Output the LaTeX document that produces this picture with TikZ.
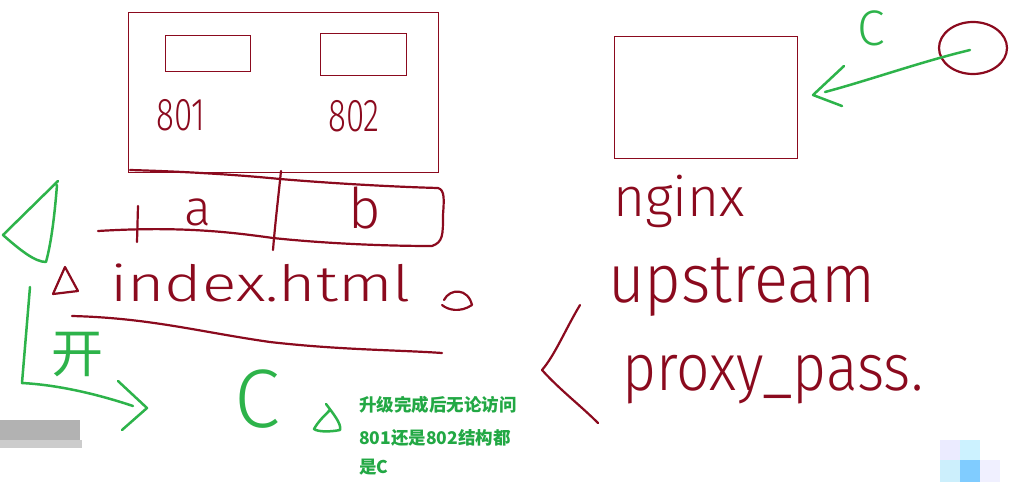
\documentclass[tikz,border=0pt]{standalone}
\usepackage{fontspec}
\usepackage{graphicx}
\newfontfamily\hand{Fira Sans Light}
\newfontfamily\cjk{Noto Sans CJK SC}
\definecolor{dred}{HTML}{8B0A1E}
\definecolor{hgreen}{HTML}{2DB34A}
\definecolor{tgreen}{HTML}{22A844}
\tikzset{
  redline/.style={draw=dred, line width=2.2pt, line cap=round, line join=round},
  thinred/.style={draw=dred, line width=1.4pt},
  grnline/.style={draw=hgreen, line width=2.5pt, line cap=round, line join=round},
  redtext/.style={text=dred, inner sep=0pt, font=\hand},
  grntext/.style={text=hgreen, inner sep=0pt, font=\hand},
  note/.style={text=tgreen, inner sep=0pt, anchor=base west, font=\cjk\bfseries\fontsize{17.5}{17.5}\selectfont},
}
\begin{document}
\begin{tikzpicture}[x=1pt,y=-1pt]
\useasboundingbox[fill=white] (0,0) rectangle (1035,482);
% mosaic blurs
\fill[gray!60] (0,420) rectangle (80,440);
\fill[gray!40] (0,440) rectangle (82,448);
\fill[blue!8] (940,440) rectangle (960,460);
\fill[blue!25!cyan!20] (960,440) rectangle (980,460);
\fill[cyan!20] (940,460) rectangle (960,482);
\fill[blue!40!cyan!50] (960,460) rectangle (980,482);
\fill[blue!6] (980,460) rectangle (1000,482);

% left server box
\node[thinred, rectangle, minimum width=310pt, minimum height=160pt, anchor=north west, inner sep=0pt] (box) at (128,12) {};
\node[thinred, rectangle, minimum width=85pt, minimum height=36pt, anchor=north west, inner sep=0pt] (s1) at (165,35) {};
\node[thinred, rectangle, minimum width=86pt, minimum height=42pt, anchor=north west, inner sep=0pt] (s2) at (320,33) {};
\node[redtext, anchor=base west, font=\hand\fontsize{46}{46}\selectfont] (t801) at (156,130) {\scalebox{0.72}[1]{801}};
\node[redtext, anchor=base west, font=\hand\fontsize{46}{46}\selectfont] (t802) at (328,131) {\scalebox{0.72}[1]{802}};

% a | b strip
\draw[redline] (130,170) .. controls (200,172) and (250,176) .. (280,179) .. controls (340,184) and (400,187) .. (438,188)
   .. controls (445,190) and (444,200) .. (443,215) .. controls (443,235) and (443,242) .. (432,246)
   .. controls (380,246) and (320,243) .. (273,238) .. controls (230,232) and (180,226) .. (98,231);
\draw[redline] (281,171) .. controls (278,200) and (275,225) .. (273,250);
\draw[redline] (138,206) -- (137,242);
\node[redtext, anchor=base west, font=\hand\fontsize{50}{50}\selectfont] (ta) at (184,225) {a};
\node[redtext, anchor=base west, font=\hand\fontsize{56}{56}\selectfont] (tb) at (348,228) {b};

% index.html
\draw[redline] (65,267) -- (53,294) -- (78,291) -- cycle;
\node[redtext, anchor=base west, font=\hand\fontsize{50}{50}\selectfont] (idx) at (110,301) {\scalebox{1.28}[1]{index.html}};
\draw[redline] (444,300) .. controls (450,288) and (468,288) .. (472,305) .. controls (460,313) and (448,310) .. (442,305);
\draw[redline] (72,316) .. controls (150,318) and (200,332) .. (270,342) .. controls (340,350) and (400,350) .. (442,353);

% green annotations left
\draw[grnline] (58,181) -- (3,235) .. controls (20,250) and (35,262) .. (46,262) .. controls (52,240) and (55,210) .. (57,185);
\draw[grnline] (30,287) -- (22,383) .. controls (60,385) and (100,395) .. (133,406);
\draw[grnline] (118,381) -- (147,408) -- (122,430);
\node[text=hgreen, inner sep=0pt, font=\cjk\fontsize{52}{52}\selectfont] (kai) at (77,355) {开};
\node[grntext, anchor=base west, font=\hand\fontsize{83}{83}\selectfont] (bigc) at (234,427) {C};
\draw[grnline] (326,404) .. controls (332,412) and (342,424) .. (340,430) .. controls (330,432) and (318,432) .. (314,429) .. controls (318,422) and (322,418) .. (330,410);
\node[note] (n1) at (359,411) {升级完成后无论访问};
\node[note] (n2) at (359,444) {801还是802结构都};
\node[note] (n3) at (359,473) {是C};

% right side
\node[thinred, rectangle, minimum width=183pt, minimum height=122pt, anchor=north west, inner sep=0pt] (ngx) at (614,36) {};
\node[redtext, anchor=base west, font=\hand\fontsize{55}{55}\selectfont] (tnginx) at (613,216) {nginx};
\node[redtext, anchor=base west, font=\hand\fontsize{68}{68}\selectfont] (tup) at (608,302) {\scalebox{0.93}[1]{upstream}};
\node[redtext, anchor=base west, font=\hand\fontsize{66}{66}\selectfont] (tpp) at (622,390) {\scalebox{0.89}[1]{proxy\_pass.}};
\draw[redline] (580,305) .. controls (565,330) and (555,355) .. (542,370) .. controls (560,390) and (580,405) .. (598,423);

\node[grntext, anchor=base west, font=\hand\fontsize{50}{50}\selectfont] (smallc) at (857,45) {C};
\draw[redline] (973,48) ellipse [x radius=34, y radius=26];
\coordinate (cstart) at (970,50);
\coordinate (cend) at (825,92);
\draw[grnline] (cstart) .. controls (920,62) and (870,80) .. (cend);
\draw[grnline] (844,66) -- (813,95) -- (842,106);
\end{tikzpicture}
\end{document}
